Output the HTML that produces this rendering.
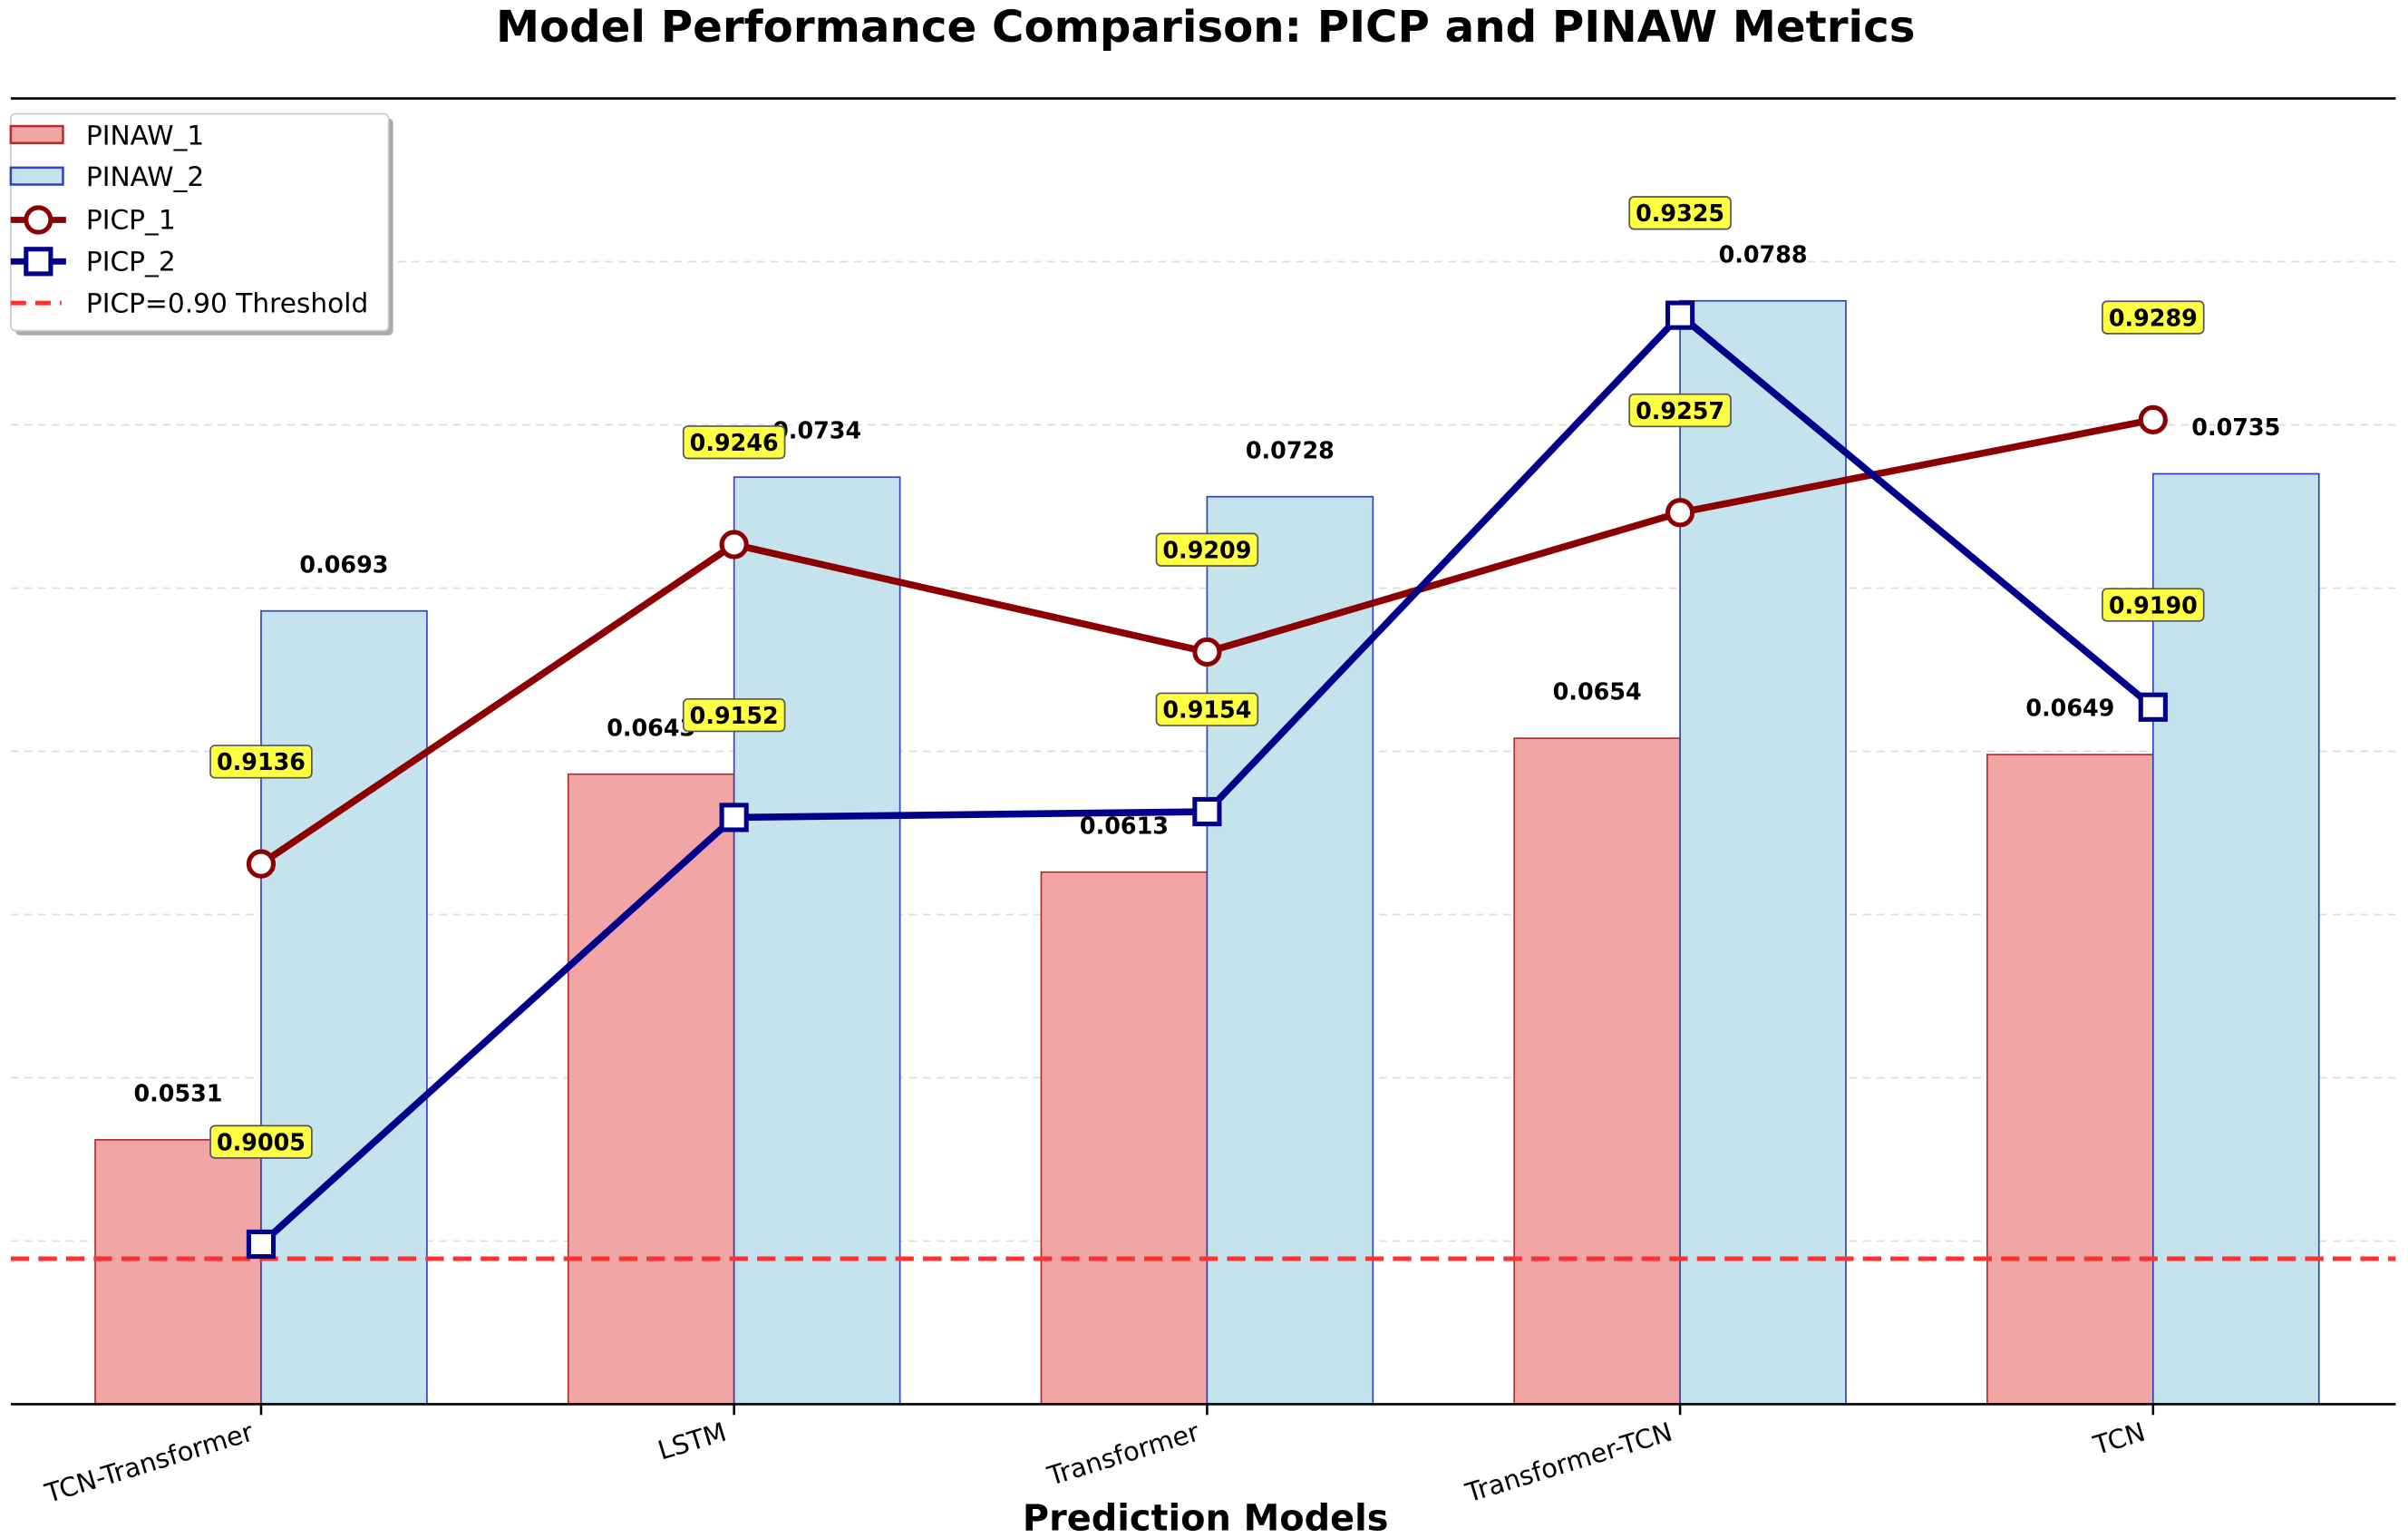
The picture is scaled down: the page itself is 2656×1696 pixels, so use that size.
<!DOCTYPE html>
<html><head><meta charset="utf-8"><style>
html,body{margin:0;padding:0;background:#fff;}
svg{display:block;font-family:"DejaVu Sans","Liberation Sans",sans-serif;}
</style></head><body>
<svg id="chart" width="2656" height="1696" viewBox="0 0 1568 1000" preserveAspectRatio="none" xmlns="http://www.w3.org/2000/svg">
<text x="785" y="27" text-anchor="middle" font-size="28.5" font-weight="bold">Model Performance Comparison: PICP and PINAW Metrics</text>
<g id="grid"></g>
<g id="bars"></g>
<line id="thr" x1="7" x2="1560" stroke="#ff3030" stroke-width="3" stroke-dasharray="12,6"/>
<g id="lines"></g>
<g id="labels"></g>
<line x1="7" x2="1560" y1="64" y2="64" stroke="#000" stroke-width="1.5"/>
<line x1="7" x2="1560" y1="913" y2="913" stroke="#000" stroke-width="1.5"/>
<g id="xticks"></g>
<text x="785" y="995" text-anchor="middle" font-size="23.5" font-weight="bold">Prediction Models</text>
<g>
<rect x="10" y="77" width="246" height="141" rx="3" fill="#aaa"/>
<rect x="7" y="74" width="246" height="141" rx="3" fill="#fff" stroke="#ccc" stroke-width="1"/>
<rect x="7" y="82" width="34" height="11" fill="#f2a5a5" stroke="#b03030" stroke-width="1.5"/>
<text x="56" y="94" font-size="17.5">PINAW_1</text>
<rect x="7" y="109" width="34" height="11" fill="#c5e3ec" stroke="#3344bb" stroke-width="1.5"/>
<text x="56" y="121" font-size="17.5">PINAW_2</text>
<line x1="7" x2="43" y1="143" y2="143" stroke="#8b0000" stroke-width="4"/>
<circle cx="25" cy="143" r="8" fill="#fff" stroke="#8b0000" stroke-width="3"/>
<text x="56" y="149" font-size="17.5">PICP_1</text>
<line x1="7" x2="43" y1="170" y2="170" stroke="#00008b" stroke-width="4"/>
<rect x="17" y="162" width="16" height="16" fill="#fff" stroke="#00008b" stroke-width="3"/>
<text x="56" y="176" font-size="17.5">PICP_2</text>
<line x1="7" x2="40" y1="197" y2="197" stroke="#ff3030" stroke-width="3" stroke-dasharray="10,6"/>
<text x="56" y="203" font-size="17.5">PICP=0.90 Threshold</text>
</g>
</svg>
<script>
const categories = ["TCN-Transformer","LSTM","Transformer","Transformer-TCN","TCN"];
const pinaw1 = [0.0531,0.0643,0.0613,0.0654,0.0649];
const pinaw2 = [0.0693,0.0734,0.0728,0.0788,0.0735];
const picp1 = [0.9136,0.9246,0.9209,0.9257,0.9289];
const picp2 = [0.9005,0.9152,0.9154,0.9325,0.9190];
const gridTicks = [0.05,0.055,0.06,0.065,0.07,0.075,0.08];
const threshold = 0.90;

const NS="http://www.w3.org/2000/svg";
const yBar = v => 913 - (v-0.045)/(0.085-0.045)*849;
const yPicp = v => 818.4 - (v-0.9)*18875;
const xC = i => 170 + i*308;
const bw = 108;
function mk(tag, attrs, parent){const e=document.createElementNS(NS,tag);for(const k in attrs)e.setAttribute(k,attrs[k]);parent.appendChild(e);return e;}
const G=id=>document.getElementById(id);

gridTicks.forEach((t)=>{
  const l=mk('line',{x1:7,x2:1560,y1:yBar(t),y2:yBar(t),stroke:'#ddd','stroke-width':1,'stroke-dasharray':'5,4'},G('grid'));
  
  
});
const thr=G('thr'); thr.setAttribute('y1',yPicp(threshold)); thr.setAttribute('y2',yPicp(threshold));

categories.forEach((c,i)=>{
  const x=xC(i);
  const b1=mk('rect',{x:x-bw,y:yBar(pinaw1[i]),width:bw,height:913-yBar(pinaw1[i]),fill:'#f2a5a5',stroke:'#b03030','stroke-width':1},G('bars'));
  
  
  const b2=mk('rect',{x:x,y:yBar(pinaw2[i]),width:bw,height:913-yBar(pinaw2[i]),fill:'#c5e3ec',stroke:'#3344bb','stroke-width':1},G('bars'));
  
  
  const t1=mk('text',{x:x-bw/2,y:yBar(pinaw1[i])-25,'text-anchor':'middle','font-size':15,'font-weight':'bold'},G('labels'));
  t1.textContent=pinaw1[i].toFixed(4);
  
  
  const t2=mk('text',{x:x+bw/2,y:yBar(pinaw2[i])-25,'text-anchor':'middle','font-size':15,'font-weight':'bold'},G('labels'));
  t2.textContent=pinaw2[i].toFixed(4);
  
  
  mk('line',{x1:x,x2:x,y1:913,y2:920,stroke:'#000','stroke-width':1.5},G('xticks'));
  const tl=mk('text',{x:x-4,y:936,'text-anchor':'end','font-size':17,transform:`rotate(-17 ${x-4} 936)`},G('xticks'));
  tl.textContent=c;
  
  
});

function series(vals,color,shape,name){
  const pts=vals.map((v,i)=>xC(i)+','+yPicp(v)).join(' ');
  const pl=mk('polyline',{points:pts,fill:'none',stroke:color,'stroke-width':4.5,'stroke-linejoin':'round'},G('lines'));
  
  
  vals.forEach((v,i)=>{
    const x=xC(i),y=yPicp(v);
    let m;
    if(shape==='c') m=mk('circle',{cx:x,cy:y,r:8,fill:'#fff',stroke:color,'stroke-width':3},G('lines'));
    else m=mk('rect',{x:x-8,y:y-8,width:16,height:16,fill:'#fff',stroke:color,'stroke-width':3},G('lines'));
    
    
    const g=mk('g',{},G('labels'));
    
    
    mk('rect',{x:x-33,y:y-77,width:66,height:21,rx:3,fill:'#ffff44',stroke:'#555','stroke-width':1},g);
    const t=mk('text',{x:x,y:y-61,'text-anchor':'middle','font-size':15,'font-weight':'bold'},g);
    t.textContent=v.toFixed(4);
  });
}
series(picp1,'#8b0000','c','picp1');
series(picp2,'#00008b','s','picp2');
</script>
</body></html>
